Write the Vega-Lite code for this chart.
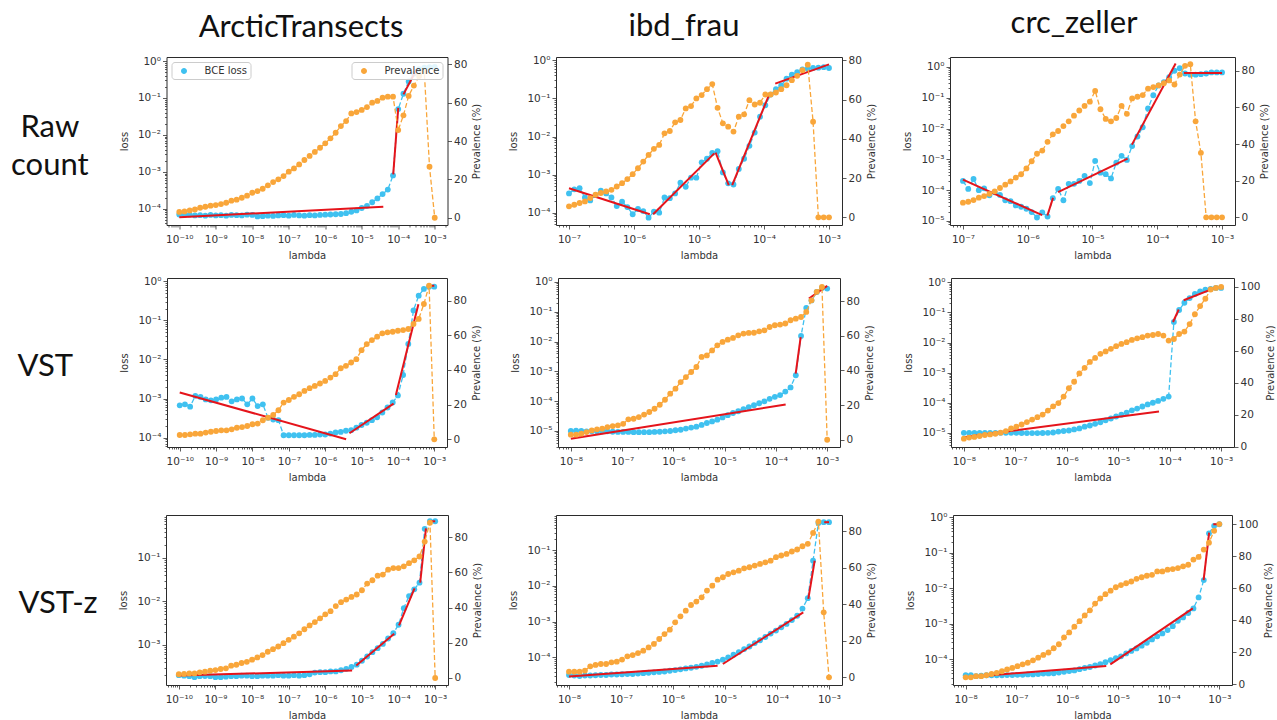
{
  "$schema": "https://vega.github.io/schema/vega-lite/v6.json",
  "padding": {"left": 10, "top": 8, "right": 4, "bottom": 0},
  "background": "white",
  "config": {
    "font": "DejaVu Sans",
    "view": {"stroke": "#2b2b2b", "strokeWidth": 1},
    "axis": {"grid": false, "domain": false, "labelFont": "DejaVu Sans", "labelFontSize": 10.5, "labelColor": "#333333", "titleFont": "DejaVu Sans", "titleFontSize": 10, "titleFontWeight": "normal", "titleColor": "#333333", "tickColor": "#333333"},
    "legend": {"labelFont": "DejaVu Sans", "labelFontSize": 10, "labelColor": "#333333"},
    "title": {"font": "Lato", "fontSize": 31, "fontWeight": "normal", "color": "#111111"}
  },
  "datasets": {
    "arctic_raw": [
      {"lambda": 1e-10, "loss": 7.0e-5, "prev": 3.0}, {"lambda": 1.39e-10, "loss": 6.8e-5, "prev": 3.3}, {"lambda": 1.931e-10, "loss": 6.9e-5, "prev": 3.8}, {"lambda": 2.683e-10, "loss": 6.6e-5, "prev": 4.3}, {"lambda": 3.728e-10, "loss": 6.7e-5, "prev": 5.2}, {"lambda": 5.179e-10, "loss": 6.5e-5, "prev": 5.7}, {"lambda": 7.197e-10, "loss": 6.8e-5, "prev": 6.3},
      {"lambda": 1e-9, "loss": 6.6e-5, "prev": 6.6}, {"lambda": 1.39e-9, "loss": 6.7e-5, "prev": 7.1}, {"lambda": 1.931e-9, "loss": 6.5e-5, "prev": 7.8}, {"lambda": 2.683e-9, "loss": 6.8e-5, "prev": 8.9}, {"lambda": 3.728e-9, "loss": 6.7e-5, "prev": 9.4}, {"lambda": 5.179e-9, "loss": 6.6e-5, "prev": 10.4}, {"lambda": 7.197e-9, "loss": 6.9e-5, "prev": 11.5},
      {"lambda": 1e-8, "loss": 6.8e-5, "prev": 13.0}, {"lambda": 1.39e-8, "loss": 6.2e-5, "prev": 13.9}, {"lambda": 1.931e-8, "loss": 6.3e-5, "prev": 15.1}, {"lambda": 2.683e-8, "loss": 6.5e-5, "prev": 16.9}, {"lambda": 3.728e-8, "loss": 6.4e-5, "prev": 18.6}, {"lambda": 5.179e-8, "loss": 6.6e-5, "prev": 20.0}, {"lambda": 7.197e-8, "loss": 6.7e-5, "prev": 21.7},
      {"lambda": 1e-7, "loss": 6.5e-5, "prev": 24.0}, {"lambda": 1.39e-7, "loss": 6.8e-5, "prev": 25.7}, {"lambda": 1.931e-7, "loss": 6.6e-5, "prev": 27.8}, {"lambda": 2.683e-7, "loss": 6.5e-5, "prev": 30.1}, {"lambda": 3.728e-7, "loss": 6.7e-5, "prev": 32.2}, {"lambda": 5.179e-7, "loss": 6.6e-5, "prev": 34.3}, {"lambda": 7.197e-7, "loss": 6.8e-5, "prev": 36.5},
      {"lambda": 1e-6, "loss": 6.9e-5, "prev": 38.8}, {"lambda": 1.39e-6, "loss": 7.0e-5, "prev": 41.4}, {"lambda": 1.931e-6, "loss": 7.1e-5, "prev": 44.3}, {"lambda": 2.683e-6, "loss": 7.2e-5, "prev": 47.8}, {"lambda": 3.728e-6, "loss": 7.6e-5, "prev": 50.4}, {"lambda": 5.179e-6, "loss": 8.3e-5, "prev": 54.4}, {"lambda": 7.197e-6, "loss": 9.0e-5, "prev": 55.1},
      {"lambda": 1e-5, "loss": 1.05e-4, "prev": 56.2}, {"lambda": 1.39e-5, "loss": 1.2e-4, "prev": 57.7}, {"lambda": 1.931e-5, "loss": 1.5e-4, "prev": 60.0}, {"lambda": 2.683e-5, "loss": 1.9e-4, "prev": 60.9}, {"lambda": 3.728e-5, "loss": 2.5e-4, "prev": 62.6}, {"lambda": 5.179e-5, "loss": 3.3e-4, "prev": 63.1}, {"lambda": 7.197e-5, "loss": 8.0e-4, "prev": 63.1},
      {"lambda": 1e-4, "loss": 0.05, "prev": 45.7}, {"lambda": 1.39e-4, "loss": 0.13, "prev": 53.4}, {"lambda": 1.931e-4, "loss": 0.28, "prev": 63.5}, {"lambda": 2.683e-4, "loss": 0.45, "prev": 68.9}, {"lambda": 3.728e-4, "loss": 0.6, "prev": 73.9}, {"lambda": 5.179e-4, "loss": 0.66, "prev": 76.2}, {"lambda": 7.197e-4, "loss": 0.68, "prev": 26.6},
      {"lambda": 1e-3, "loss": 0.69, "prev": 0}
    ],
    "ibd_raw": [
      {"lambda": 1e-7, "loss": 3.2e-4, "prev": 5.6}, {"lambda": 1.207e-7, "loss": 4.1e-4, "prev": 6.4}, {"lambda": 1.456e-7, "loss": 4.4e-4, "prev": 7.3}, {"lambda": 1.758e-7, "loss": 2.5e-4, "prev": 8.1}, {"lambda": 2.121e-7, "loss": 2.1e-4, "prev": 9.8}, {"lambda": 2.56e-7, "loss": 2.9e-4, "prev": 11.5}, {"lambda": 3.089e-7, "loss": 3.8e-4, "prev": 12.4}, {"lambda": 3.728e-7, "loss": 3.2e-4, "prev": 13.2}, {"lambda": 4.498e-7, "loss": 2.5e-4, "prev": 14.0}, {"lambda": 5.429e-7, "loss": 1.5e-4, "prev": 15.7},
      {"lambda": 6.551e-7, "loss": 1.95e-4, "prev": 17.4}, {"lambda": 7.906e-7, "loss": 1.4e-4, "prev": 19.5}, {"lambda": 9.541e-7, "loss": 9.1e-5, "prev": 22.0}, {"lambda": 1.151e-6, "loss": 1.25e-4, "prev": 25.0}, {"lambda": 1.389e-6, "loss": 1.1e-4, "prev": 28.4}, {"lambda": 1.677e-6, "loss": 7.4e-5, "prev": 31.8}, {"lambda": 2.024e-6, "loss": 1.07e-4, "prev": 34.9}, {"lambda": 2.442e-6, "loss": 1.0e-4, "prev": 36.9}, {"lambda": 2.947e-6, "loss": 2.5e-4, "prev": 42.8}, {"lambda": 3.556e-6, "loss": 2.4e-4, "prev": 44.0},
      {"lambda": 4.292e-6, "loss": 3.2e-4, "prev": 48.4}, {"lambda": 5.179e-6, "loss": 6.1e-4, "prev": 49.6}, {"lambda": 6.251e-6, "loss": 4.8e-4, "prev": 55.5}, {"lambda": 7.543e-6, "loss": 8.3e-4, "prev": 56.7}, {"lambda": 9.103e-6, "loss": 8.3e-4, "prev": 60.6}, {"lambda": 1.099e-5, "loss": 2.1e-3, "prev": 62.3}, {"lambda": 1.326e-5, "loss": 2.6e-3, "prev": 65.3}, {"lambda": 1.6e-5, "loss": 3.7e-3, "prev": 67.9}, {"lambda": 1.931e-5, "loss": 4.1e-3, "prev": 55.8}, {"lambda": 2.33e-5, "loss": 1.14e-3, "prev": 47.9},
      {"lambda": 2.812e-5, "loss": 5.9e-4, "prev": 46.2}, {"lambda": 3.393e-5, "loss": 5.5e-4, "prev": 43.7}, {"lambda": 4.095e-5, "loss": 1.4e-3, "prev": 51.3}, {"lambda": 4.942e-5, "loss": 2.6e-3, "prev": 52.5}, {"lambda": 5.964e-5, "loss": 5.7e-3, "prev": 59.7}, {"lambda": 7.197e-5, "loss": 1.27e-2, "prev": 57.5}, {"lambda": 8.685e-5, "loss": 3.3e-2, "prev": 58.4}, {"lambda": 1.048e-4, "loss": 6.6e-2, "prev": 62.6}, {"lambda": 1.265e-4, "loss": 0.126, "prev": 62.6}, {"lambda": 1.526e-4, "loss": 0.174, "prev": 63.6},
      {"lambda": 1.842e-4, "loss": 0.22, "prev": 65.3}, {"lambda": 2.223e-4, "loss": 0.33, "prev": 67.3}, {"lambda": 2.683e-4, "loss": 0.42, "prev": 69.9}, {"lambda": 3.237e-4, "loss": 0.49, "prev": 72.1}, {"lambda": 3.907e-4, "loss": 0.58, "prev": 75.0}, {"lambda": 4.715e-4, "loss": 0.6, "prev": 77.8}, {"lambda": 5.69e-4, "loss": 0.63, "prev": 48.7}, {"lambda": 6.866e-4, "loss": 0.64, "prev": 0}, {"lambda": 8.286e-4, "loss": 0.66, "prev": 0}, {"lambda": 1e-3, "loss": 0.63, "prev": 0}
    ],
    "crc_raw": [
      {"lambda": 1e-7, "loss": 2.0e-4, "prev": 8.0}, {"lambda": 1.207e-7, "loss": 1.1e-4, "prev": 8.5}, {"lambda": 1.456e-7, "loss": 2.3e-4, "prev": 9.4}, {"lambda": 1.758e-7, "loss": 1.0e-4, "prev": 10.7}, {"lambda": 2.121e-7, "loss": 1.15e-4, "prev": 11.6}, {"lambda": 2.56e-7, "loss": 6.8e-5, "prev": 12.8}, {"lambda": 3.089e-7, "loss": 8.5e-5, "prev": 14.2}, {"lambda": 3.728e-7, "loss": 7.0e-5, "prev": 16.0}, {"lambda": 4.498e-7, "loss": 4.7e-5, "prev": 17.8}, {"lambda": 5.429e-7, "loss": 4.4e-5, "prev": 19.6},
      {"lambda": 6.551e-7, "loss": 3.2e-5, "prev": 21.7}, {"lambda": 7.906e-7, "loss": 2.9e-5, "prev": 23.5}, {"lambda": 9.541e-7, "loss": 2.5e-5, "prev": 26.7}, {"lambda": 1.151e-6, "loss": 1.95e-5, "prev": 30.6}, {"lambda": 1.389e-6, "loss": 1.3e-5, "prev": 34.7}, {"lambda": 1.677e-6, "loss": 1.9e-5, "prev": 36.4}, {"lambda": 2.024e-6, "loss": 1.4e-5, "prev": 41.2}, {"lambda": 2.442e-6, "loss": 5.5e-5, "prev": 45.3}, {"lambda": 2.947e-6, "loss": 1.1e-4, "prev": 47.1}, {"lambda": 3.556e-6, "loss": 4.7e-5, "prev": 49.8},
      {"lambda": 4.292e-6, "loss": 1.6e-4, "prev": 52.4}, {"lambda": 5.179e-6, "loss": 1.6e-4, "prev": 55.5}, {"lambda": 6.251e-6, "loss": 2.0e-4, "prev": 58.3}, {"lambda": 7.543e-6, "loss": 2.9e-4, "prev": 60.8}, {"lambda": 9.103e-6, "loss": 1.7e-4, "prev": 63.1}, {"lambda": 1.099e-5, "loss": 8.9e-4, "prev": 69.0}, {"lambda": 1.326e-5, "loss": 3.7e-4, "prev": 59.0}, {"lambda": 1.6e-5, "loss": 3.3e-4, "prev": 53.7}, {"lambda": 1.931e-5, "loss": 2.4e-4, "prev": 52.4}, {"lambda": 2.33e-5, "loss": 7.8e-4, "prev": 54.2},
      {"lambda": 2.812e-5, "loss": 1.3e-3, "prev": 60.8}, {"lambda": 3.393e-5, "loss": 9.6e-4, "prev": 56.5}, {"lambda": 4.095e-5, "loss": 2.7e-3, "prev": 64.9}, {"lambda": 4.942e-5, "loss": 5.5e-3, "prev": 65.8}, {"lambda": 5.964e-5, "loss": 1.1e-2, "prev": 66.7}, {"lambda": 7.197e-5, "loss": 4.5e-2, "prev": 70.2}, {"lambda": 8.685e-5, "loss": 0.12, "prev": 71.1}, {"lambda": 1.048e-4, "loss": 0.25, "prev": 72.0}, {"lambda": 1.265e-4, "loss": 0.32, "prev": 73.2}, {"lambda": 1.526e-4, "loss": 0.46, "prev": 74.7},
      {"lambda": 1.842e-4, "loss": 0.75, "prev": 72.5}, {"lambda": 2.223e-4, "loss": 0.9, "prev": 77.9}, {"lambda": 2.683e-4, "loss": 0.61, "prev": 82.7}, {"lambda": 3.237e-4, "loss": 0.56, "prev": 83.6}, {"lambda": 3.907e-4, "loss": 0.56, "prev": 52.4}, {"lambda": 4.715e-4, "loss": 0.58, "prev": 35.2}, {"lambda": 5.69e-4, "loss": 0.61, "prev": 0}, {"lambda": 6.866e-4, "loss": 0.66, "prev": 0}, {"lambda": 8.286e-4, "loss": 0.66, "prev": 0}, {"lambda": 1e-3, "loss": 0.66, "prev": 0}
    ],
    "arctic_vst": [
      {"lambda": 1e-10, "loss": 6.7e-4, "prev": 2.5}, {"lambda": 1.39e-10, "loss": 7.1e-4, "prev": 2.5}, {"lambda": 1.931e-10, "loss": 6.2e-4, "prev": 2.9}, {"lambda": 2.683e-10, "loss": 1.17e-3, "prev": 3.3}, {"lambda": 3.728e-10, "loss": 1.1e-3, "prev": 3.3}, {"lambda": 5.179e-10, "loss": 9.5e-4, "prev": 3.9}, {"lambda": 7.197e-10, "loss": 9.0e-4, "prev": 4.4},
      {"lambda": 1e-9, "loss": 9.5e-4, "prev": 4.8}, {"lambda": 1.39e-9, "loss": 1.05e-3, "prev": 5.2}, {"lambda": 1.931e-9, "loss": 1.1e-3, "prev": 5.2}, {"lambda": 2.683e-9, "loss": 8.5e-4, "prev": 5.8}, {"lambda": 3.728e-9, "loss": 9.5e-4, "prev": 6.7}, {"lambda": 5.179e-9, "loss": 1.0e-3, "prev": 7.1}, {"lambda": 7.197e-9, "loss": 7.1e-4, "prev": 7.7},
      {"lambda": 1e-8, "loss": 1.0e-3, "prev": 8.7}, {"lambda": 1.39e-8, "loss": 6.4e-4, "prev": 9.1}, {"lambda": 1.931e-8, "loss": 7.1e-4, "prev": 11.0}, {"lambda": 2.683e-8, "loss": 3.2e-4, "prev": 12.5}, {"lambda": 3.728e-8, "loss": 2.9e-4, "prev": 14.1}, {"lambda": 5.179e-8, "loss": 2.8e-4, "prev": 16.8}, {"lambda": 7.197e-8, "loss": 1.15e-4, "prev": 21.2},
      {"lambda": 1e-7, "loss": 1.15e-4, "prev": 22.7}, {"lambda": 1.39e-7, "loss": 1.15e-4, "prev": 24.5}, {"lambda": 1.931e-7, "loss": 1.15e-4, "prev": 26.0}, {"lambda": 2.683e-7, "loss": 1.15e-4, "prev": 27.9}, {"lambda": 3.728e-7, "loss": 1.17e-4, "prev": 29.5}, {"lambda": 5.179e-7, "loss": 1.17e-4, "prev": 30.8}, {"lambda": 7.197e-7, "loss": 1.2e-4, "prev": 32.2},
      {"lambda": 1e-6, "loss": 1.2e-4, "prev": 33.7}, {"lambda": 1.39e-6, "loss": 1.27e-4, "prev": 35.6}, {"lambda": 1.931e-6, "loss": 1.35e-4, "prev": 37.6}, {"lambda": 2.683e-6, "loss": 1.4e-4, "prev": 41.0}, {"lambda": 3.728e-6, "loss": 1.5e-4, "prev": 42.4}, {"lambda": 5.179e-6, "loss": 1.55e-4, "prev": 44.3}, {"lambda": 7.197e-6, "loss": 1.8e-4, "prev": 46.2},
      {"lambda": 1e-5, "loss": 2.1e-4, "prev": 51.4}, {"lambda": 1.39e-5, "loss": 2.4e-4, "prev": 54.9}, {"lambda": 1.931e-5, "loss": 2.8e-4, "prev": 57.2}, {"lambda": 2.683e-5, "loss": 3.3e-4, "prev": 59.2}, {"lambda": 3.728e-5, "loss": 4.4e-4, "prev": 61.1}, {"lambda": 5.179e-5, "loss": 5.9e-4, "prev": 61.7}, {"lambda": 7.197e-5, "loss": 7.9e-4, "prev": 62.0},
      {"lambda": 1e-4, "loss": 1.2e-3, "prev": 62.6}, {"lambda": 1.39e-4, "loss": 4.0e-3, "prev": 63.0}, {"lambda": 1.931e-4, "loss": 2.5e-2, "prev": 63.6}, {"lambda": 2.683e-4, "loss": 0.18, "prev": 66.5}, {"lambda": 3.728e-4, "loss": 0.43, "prev": 69.4}, {"lambda": 5.179e-4, "loss": 0.64, "prev": 78.0}, {"lambda": 7.197e-4, "loss": 0.73, "prev": 88.6},
      {"lambda": 1e-3, "loss": 0.73, "prev": 0}
    ],
    "ibd_vst": [
      {"lambda": 1e-8, "loss": 1.0e-5, "prev": 2.9}, {"lambda": 1.265e-8, "loss": 1.02e-5, "prev": 2.9}, {"lambda": 1.6e-8, "loss": 1.0e-5, "prev": 3.5}, {"lambda": 2.024e-8, "loss": 9.7e-6, "prev": 4.4}, {"lambda": 2.56e-8, "loss": 9.8e-6, "prev": 5.4}, {"lambda": 3.237e-8, "loss": 9.7e-6, "prev": 6.0}, {"lambda": 4.095e-8, "loss": 9.7e-6, "prev": 6.4}, {"lambda": 5.179e-8, "loss": 9.7e-6, "prev": 7.3}, {"lambda": 6.551e-8, "loss": 9.4e-6, "prev": 7.9}, {"lambda": 8.286e-8, "loss": 9.3e-6, "prev": 8.3},
      {"lambda": 1.048e-7, "loss": 9.3e-6, "prev": 9.2}, {"lambda": 1.326e-7, "loss": 9.3e-6, "prev": 11.8}, {"lambda": 1.677e-7, "loss": 9.1e-6, "prev": 12.1}, {"lambda": 2.121e-7, "loss": 9.1e-6, "prev": 13.1}, {"lambda": 2.683e-7, "loss": 9.1e-6, "prev": 14.5}, {"lambda": 3.393e-7, "loss": 9.1e-6, "prev": 16.0}, {"lambda": 4.292e-7, "loss": 9.3e-6, "prev": 17.9}, {"lambda": 5.429e-7, "loss": 9.4e-6, "prev": 20.2}, {"lambda": 6.866e-7, "loss": 9.7e-6, "prev": 23.1}, {"lambda": 8.685e-7, "loss": 1.0e-5, "prev": 26.6},
      {"lambda": 1.099e-6, "loss": 1.06e-5, "prev": 29.5}, {"lambda": 1.389e-6, "loss": 1.1e-5, "prev": 33.3}, {"lambda": 1.758e-6, "loss": 1.2e-5, "prev": 36.2}, {"lambda": 2.223e-6, "loss": 1.3e-5, "prev": 39.1}, {"lambda": 2.812e-6, "loss": 1.4e-5, "prev": 42.0}, {"lambda": 3.556e-6, "loss": 1.6e-5, "prev": 47.8}, {"lambda": 4.498e-6, "loss": 1.85e-5, "prev": 48.7}, {"lambda": 5.69e-6, "loss": 2.1e-5, "prev": 51.6}, {"lambda": 7.197e-6, "loss": 2.4e-5, "prev": 54.5}, {"lambda": 9.103e-6, "loss": 2.85e-5, "prev": 56.5},
      {"lambda": 1.151e-5, "loss": 3.4e-5, "prev": 57.8}, {"lambda": 1.456e-5, "loss": 4.0e-5, "prev": 58.8}, {"lambda": 1.842e-5, "loss": 4.6e-5, "prev": 60.3}, {"lambda": 2.33e-5, "loss": 5.4e-5, "prev": 61.3}, {"lambda": 2.947e-5, "loss": 6.3e-5, "prev": 61.7}, {"lambda": 3.728e-5, "loss": 7.3e-5, "prev": 61.8}, {"lambda": 4.715e-5, "loss": 8.5e-5, "prev": 62.6}, {"lambda": 5.964e-5, "loss": 9.9e-5, "prev": 63.2}, {"lambda": 7.543e-5, "loss": 1.2e-4, "prev": 65.1}, {"lambda": 9.541e-5, "loss": 1.4e-4, "prev": 66.1},
      {"lambda": 1.207e-4, "loss": 1.6e-4, "prev": 66.5}, {"lambda": 1.526e-4, "loss": 2.1e-4, "prev": 67.1}, {"lambda": 1.931e-4, "loss": 2.9e-4, "prev": 69.0}, {"lambda": 2.442e-4, "loss": 7.4e-4, "prev": 69.9}, {"lambda": 3.089e-4, "loss": 1.55e-2, "prev": 70.9}, {"lambda": 3.907e-4, "loss": 0.134, "prev": 73.8}, {"lambda": 4.942e-4, "loss": 0.24, "prev": 80.5}, {"lambda": 6.251e-4, "loss": 0.46, "prev": 85.4}, {"lambda": 7.906e-4, "loss": 0.63, "prev": 88.2}, {"lambda": 1e-3, "loss": 0.6, "prev": 0}
    ],
    "crc_vst": [
      {"lambda": 1e-8, "loss": 1.0e-5, "prev": 4.9}, {"lambda": 1.265e-8, "loss": 1.0e-5, "prev": 5.6}, {"lambda": 1.6e-8, "loss": 1.0e-5, "prev": 6.0}, {"lambda": 2.024e-8, "loss": 1.0e-5, "prev": 6.6}, {"lambda": 2.56e-8, "loss": 1.0e-5, "prev": 7.2}, {"lambda": 3.237e-8, "loss": 1.0e-5, "prev": 7.6}, {"lambda": 4.095e-8, "loss": 1.0e-5, "prev": 8.0}, {"lambda": 5.179e-8, "loss": 1.0e-5, "prev": 8.7}, {"lambda": 6.551e-8, "loss": 1.0e-5, "prev": 9.7}, {"lambda": 8.286e-8, "loss": 1.0e-5, "prev": 11.3},
      {"lambda": 1.048e-7, "loss": 1.0e-5, "prev": 12.4}, {"lambda": 1.326e-7, "loss": 9.9e-6, "prev": 13.8}, {"lambda": 1.677e-7, "loss": 9.8e-6, "prev": 15.3}, {"lambda": 2.121e-7, "loss": 9.8e-6, "prev": 16.9}, {"lambda": 2.683e-7, "loss": 9.8e-6, "prev": 18.4}, {"lambda": 3.393e-7, "loss": 9.9e-6, "prev": 20.0}, {"lambda": 4.292e-7, "loss": 1.0e-5, "prev": 22.5}, {"lambda": 5.429e-7, "loss": 1.03e-5, "prev": 25.2}, {"lambda": 6.866e-7, "loss": 1.1e-5, "prev": 27.2}, {"lambda": 8.685e-7, "loss": 1.15e-5, "prev": 31.3},
      {"lambda": 1.099e-6, "loss": 1.2e-5, "prev": 36.5}, {"lambda": 1.389e-6, "loss": 1.3e-5, "prev": 40.6}, {"lambda": 1.758e-6, "loss": 1.4e-5, "prev": 45.8}, {"lambda": 2.223e-6, "loss": 1.6e-5, "prev": 49.3}, {"lambda": 2.812e-6, "loss": 1.75e-5, "prev": 53.0}, {"lambda": 3.556e-6, "loss": 2.0e-5, "prev": 55.5}, {"lambda": 4.498e-6, "loss": 2.25e-5, "prev": 58.1}, {"lambda": 5.69e-6, "loss": 2.6e-5, "prev": 59.6}, {"lambda": 7.197e-6, "loss": 3.0e-5, "prev": 61.2}, {"lambda": 9.103e-6, "loss": 3.5e-5, "prev": 62.9},
      {"lambda": 1.151e-5, "loss": 4.0e-5, "prev": 64.3}, {"lambda": 1.456e-5, "loss": 4.7e-5, "prev": 65.4}, {"lambda": 1.842e-5, "loss": 5.6e-5, "prev": 66.8}, {"lambda": 2.33e-5, "loss": 6.4e-5, "prev": 67.8}, {"lambda": 2.947e-5, "loss": 7.5e-5, "prev": 68.5}, {"lambda": 3.728e-5, "loss": 8.8e-5, "prev": 69.5}, {"lambda": 4.715e-5, "loss": 1.0e-4, "prev": 69.9}, {"lambda": 5.964e-5, "loss": 1.15e-4, "prev": 70.5}, {"lambda": 7.543e-5, "loss": 1.35e-4, "prev": 69.5}, {"lambda": 9.541e-5, "loss": 1.6e-4, "prev": 66.4},
      {"lambda": 1.207e-4, "loss": 4.8e-2, "prev": 67.4}, {"lambda": 1.526e-4, "loss": 0.12, "prev": 70.5}, {"lambda": 1.931e-4, "loss": 0.21, "prev": 72.0}, {"lambda": 2.442e-4, "loss": 0.3, "prev": 76.7}, {"lambda": 3.089e-4, "loss": 0.41, "prev": 82.9}, {"lambda": 3.907e-4, "loss": 0.5, "prev": 88.0}, {"lambda": 4.942e-4, "loss": 0.57, "prev": 92.6}, {"lambda": 6.251e-4, "loss": 0.6, "prev": 98.4}, {"lambda": 7.906e-4, "loss": 0.65, "prev": 99.4}, {"lambda": 1e-3, "loss": 0.65, "prev": 100}
    ],
    "arctic_vstz": [
      {"lambda": 1e-10, "loss": 2.0e-4, "prev": 2.1}, {"lambda": 1.39e-10, "loss": 1.95e-4, "prev": 2.3}, {"lambda": 1.931e-10, "loss": 1.9e-4, "prev": 2.6}, {"lambda": 2.683e-10, "loss": 1.8e-4, "prev": 2.6}, {"lambda": 3.728e-10, "loss": 1.9e-4, "prev": 3.2}, {"lambda": 5.179e-10, "loss": 1.92e-4, "prev": 3.6}, {"lambda": 7.197e-10, "loss": 1.9e-4, "prev": 4.1},
      {"lambda": 1e-9, "loss": 1.8e-4, "prev": 4.5}, {"lambda": 1.39e-9, "loss": 1.8e-4, "prev": 5.1}, {"lambda": 1.931e-9, "loss": 1.85e-4, "prev": 5.5}, {"lambda": 2.683e-9, "loss": 1.9e-4, "prev": 7.0}, {"lambda": 3.728e-9, "loss": 1.9e-4, "prev": 7.5}, {"lambda": 5.179e-9, "loss": 1.95e-4, "prev": 8.5}, {"lambda": 7.197e-9, "loss": 1.95e-4, "prev": 9.2},
      {"lambda": 1e-8, "loss": 1.9e-4, "prev": 10.4}, {"lambda": 1.39e-8, "loss": 1.9e-4, "prev": 11.7}, {"lambda": 1.931e-8, "loss": 1.95e-4, "prev": 13.0}, {"lambda": 2.683e-8, "loss": 1.95e-4, "prev": 14.9}, {"lambda": 3.728e-8, "loss": 1.95e-4, "prev": 16.4}, {"lambda": 5.179e-8, "loss": 2.0e-4, "prev": 17.9}, {"lambda": 7.197e-8, "loss": 1.95e-4, "prev": 19.8},
      {"lambda": 1e-7, "loss": 1.95e-4, "prev": 21.7}, {"lambda": 1.39e-7, "loss": 2.0e-4, "prev": 23.5}, {"lambda": 1.931e-7, "loss": 1.95e-4, "prev": 25.4}, {"lambda": 2.683e-7, "loss": 2.0e-4, "prev": 27.7}, {"lambda": 3.728e-7, "loss": 2.1e-4, "prev": 29.9}, {"lambda": 5.179e-7, "loss": 2.3e-4, "prev": 31.8}, {"lambda": 7.197e-7, "loss": 2.35e-4, "prev": 33.9},
      {"lambda": 1e-6, "loss": 2.35e-4, "prev": 36.2}, {"lambda": 1.39e-6, "loss": 2.45e-4, "prev": 38.0}, {"lambda": 1.931e-6, "loss": 2.45e-4, "prev": 40.9}, {"lambda": 2.683e-6, "loss": 2.6e-4, "prev": 43.1}, {"lambda": 3.728e-6, "loss": 2.8e-4, "prev": 44.6}, {"lambda": 5.179e-6, "loss": 3.1e-4, "prev": 46.1}, {"lambda": 7.197e-6, "loss": 3.5e-4, "prev": 47.5},
      {"lambda": 1e-5, "loss": 4.3e-4, "prev": 49.9}, {"lambda": 1.39e-5, "loss": 5.4e-4, "prev": 53.7}, {"lambda": 1.931e-5, "loss": 6.8e-4, "prev": 55.6}, {"lambda": 2.683e-5, "loss": 8.4e-4, "prev": 58.2}, {"lambda": 3.728e-5, "loss": 1.05e-3, "prev": 58.8}, {"lambda": 5.179e-5, "loss": 1.4e-3, "prev": 61.6}, {"lambda": 7.197e-5, "loss": 1.85e-3, "prev": 62.5},
      {"lambda": 1e-4, "loss": 2.9e-3, "prev": 62.5}, {"lambda": 1.39e-4, "loss": 7.0e-3, "prev": 63.5}, {"lambda": 1.931e-4, "loss": 1.33e-2, "prev": 65.3}, {"lambda": 2.683e-4, "loss": 1.9e-2, "prev": 66.9}, {"lambda": 3.728e-4, "loss": 2.7e-2, "prev": 69.1}, {"lambda": 5.179e-4, "loss": 0.47, "prev": 77.6}, {"lambda": 7.197e-4, "loss": 0.7, "prev": 88.3},
      {"lambda": 1e-3, "loss": 0.7, "prev": 0}
    ],
    "ibd_vstz": [
      {"lambda": 1e-8, "loss": 3.2e-5, "prev": 3.1}, {"lambda": 1.265e-8, "loss": 3.1e-5, "prev": 3.1}, {"lambda": 1.6e-8, "loss": 3.0e-5, "prev": 3.1}, {"lambda": 2.024e-8, "loss": 3.1e-5, "prev": 3.7}, {"lambda": 2.56e-8, "loss": 3.1e-5, "prev": 6.0}, {"lambda": 3.237e-8, "loss": 3.15e-5, "prev": 6.8}, {"lambda": 4.095e-8, "loss": 3.2e-5, "prev": 7.3}, {"lambda": 5.179e-8, "loss": 3.2e-5, "prev": 7.3}, {"lambda": 6.551e-8, "loss": 3.3e-5, "prev": 8.2}, {"lambda": 8.286e-8, "loss": 3.3e-5, "prev": 8.6},
      {"lambda": 1.048e-7, "loss": 3.35e-5, "prev": 9.7}, {"lambda": 1.326e-7, "loss": 3.4e-5, "prev": 11.5}, {"lambda": 1.677e-7, "loss": 3.4e-5, "prev": 12.2}, {"lambda": 2.121e-7, "loss": 3.5e-5, "prev": 13.3}, {"lambda": 2.683e-7, "loss": 3.6e-5, "prev": 14.6}, {"lambda": 3.393e-7, "loss": 3.7e-5, "prev": 16.4}, {"lambda": 4.292e-7, "loss": 3.8e-5, "prev": 18.3}, {"lambda": 5.429e-7, "loss": 3.9e-5, "prev": 21.0}, {"lambda": 6.866e-7, "loss": 4.0e-5, "prev": 23.7}, {"lambda": 8.685e-7, "loss": 4.2e-5, "prev": 26.1},
      {"lambda": 1.099e-6, "loss": 4.4e-5, "prev": 30.1}, {"lambda": 1.389e-6, "loss": 4.6e-5, "prev": 33.4}, {"lambda": 1.758e-6, "loss": 4.9e-5, "prev": 36.5}, {"lambda": 2.223e-6, "loss": 5.1e-5, "prev": 39.6}, {"lambda": 2.812e-6, "loss": 5.4e-5, "prev": 41.5}, {"lambda": 3.556e-6, "loss": 5.8e-5, "prev": 43.8}, {"lambda": 4.498e-6, "loss": 6.3e-5, "prev": 47.5}, {"lambda": 5.69e-6, "loss": 7.0e-5, "prev": 50.2}, {"lambda": 7.197e-6, "loss": 7.6e-5, "prev": 53.5}, {"lambda": 9.103e-6, "loss": 8.6e-5, "prev": 54.8},
      {"lambda": 1.151e-5, "loss": 9.9e-5, "prev": 56.6}, {"lambda": 1.456e-5, "loss": 1.18e-4, "prev": 57.5}, {"lambda": 1.842e-5, "loss": 1.4e-4, "prev": 58.4}, {"lambda": 2.33e-5, "loss": 1.7e-4, "prev": 59.7}, {"lambda": 2.947e-5, "loss": 2.0e-4, "prev": 60.3}, {"lambda": 3.728e-5, "loss": 2.5e-4, "prev": 61.2}, {"lambda": 4.715e-5, "loss": 3.0e-4, "prev": 62.1}, {"lambda": 5.964e-5, "loss": 3.7e-4, "prev": 63.0}, {"lambda": 7.543e-5, "loss": 4.6e-4, "prev": 63.9}, {"lambda": 9.541e-5, "loss": 5.6e-4, "prev": 65.8},
      {"lambda": 1.207e-4, "loss": 6.9e-4, "prev": 66.7}, {"lambda": 1.526e-4, "loss": 8.6e-4, "prev": 67.6}, {"lambda": 1.931e-4, "loss": 1.1e-3, "prev": 68.9}, {"lambda": 2.442e-4, "loss": 1.45e-3, "prev": 70.0}, {"lambda": 3.089e-4, "loss": 2.3e-3, "prev": 71.8}, {"lambda": 3.907e-4, "loss": 4.5e-3, "prev": 73.1}, {"lambda": 4.942e-4, "loss": 5.0e-2, "prev": 79.1}, {"lambda": 6.251e-4, "loss": 0.57, "prev": 85.3}, {"lambda": 7.906e-4, "loss": 0.6, "prev": 35.6}, {"lambda": 1e-3, "loss": 0.6, "prev": 0}
    ],
    "crc_vstz": [
      {"lambda": 1e-8, "loss": 3.5e-5, "prev": 4.2}, {"lambda": 1.265e-8, "loss": 3.5e-5, "prev": 4.2}, {"lambda": 1.6e-8, "loss": 3.3e-5, "prev": 4.9}, {"lambda": 2.024e-8, "loss": 3.4e-5, "prev": 4.9}, {"lambda": 2.56e-8, "loss": 3.5e-5, "prev": 5.5}, {"lambda": 3.237e-8, "loss": 3.5e-5, "prev": 6.3}, {"lambda": 4.095e-8, "loss": 3.5e-5, "prev": 7.0}, {"lambda": 5.179e-8, "loss": 3.5e-5, "prev": 8.0}, {"lambda": 6.551e-8, "loss": 3.55e-5, "prev": 9.1}, {"lambda": 8.286e-8, "loss": 3.55e-5, "prev": 10.1},
      {"lambda": 1.048e-7, "loss": 3.6e-5, "prev": 11.2}, {"lambda": 1.326e-7, "loss": 3.6e-5, "prev": 12.3}, {"lambda": 1.677e-7, "loss": 3.7e-5, "prev": 13.3}, {"lambda": 2.121e-7, "loss": 3.7e-5, "prev": 14.8}, {"lambda": 2.683e-7, "loss": 3.8e-5, "prev": 16.5}, {"lambda": 3.393e-7, "loss": 3.9e-5, "prev": 18.2}, {"lambda": 4.292e-7, "loss": 3.95e-5, "prev": 19.7}, {"lambda": 5.429e-7, "loss": 4.0e-5, "prev": 22.4}, {"lambda": 6.866e-7, "loss": 4.2e-5, "prev": 24.9}, {"lambda": 8.685e-7, "loss": 4.4e-5, "prev": 29.2},
      {"lambda": 1.099e-6, "loss": 4.6e-5, "prev": 32.3}, {"lambda": 1.389e-6, "loss": 4.8e-5, "prev": 35.9}, {"lambda": 1.758e-6, "loss": 5.2e-5, "prev": 39.3}, {"lambda": 2.223e-6, "loss": 5.6e-5, "prev": 42.9}, {"lambda": 2.812e-6, "loss": 6.0e-5, "prev": 46.1}, {"lambda": 3.556e-6, "loss": 6.6e-5, "prev": 50.3}, {"lambda": 4.498e-6, "loss": 7.2e-5, "prev": 53.5}, {"lambda": 5.69e-6, "loss": 8.2e-5, "prev": 56.2}, {"lambda": 7.197e-6, "loss": 9.4e-5, "prev": 58.4}, {"lambda": 9.103e-6, "loss": 1.07e-4, "prev": 60.5},
      {"lambda": 1.151e-5, "loss": 1.2e-4, "prev": 61.9}, {"lambda": 1.456e-5, "loss": 1.45e-4, "prev": 63.0}, {"lambda": 1.842e-5, "loss": 1.7e-4, "prev": 64.1}, {"lambda": 2.33e-5, "loss": 2.0e-4, "prev": 65.8}, {"lambda": 2.947e-5, "loss": 2.4e-4, "prev": 66.8}, {"lambda": 3.728e-5, "loss": 2.9e-4, "prev": 67.7}, {"lambda": 4.715e-5, "loss": 3.6e-4, "prev": 68.3}, {"lambda": 5.964e-5, "loss": 4.4e-4, "prev": 70.4}, {"lambda": 7.543e-5, "loss": 5.3e-4, "prev": 70.4}, {"lambda": 9.541e-5, "loss": 6.6e-4, "prev": 71.5},
      {"lambda": 1.207e-4, "loss": 8.5e-4, "prev": 71.9}, {"lambda": 1.526e-4, "loss": 1.2e-3, "prev": 72.5}, {"lambda": 1.931e-4, "loss": 1.5e-3, "prev": 73.6}, {"lambda": 2.442e-4, "loss": 2.0e-3, "prev": 74.6}, {"lambda": 3.089e-4, "loss": 2.7e-3, "prev": 77.8}, {"lambda": 3.907e-4, "loss": 5.5e-3, "prev": 79.5}, {"lambda": 4.942e-4, "loss": 1.7e-2, "prev": 84.1}, {"lambda": 6.251e-4, "loss": 0.354, "prev": 88.4}, {"lambda": 7.906e-4, "loss": 0.576, "prev": 95.8}, {"lambda": 1e-3, "loss": 0.64, "prev": 100}
    ],
    "fits": [
      {"panel": "arctic_raw", "segment": 1, "lambda": 1e-10, "loss": 5.9e-5}, {"panel": "arctic_raw", "segment": 1, "lambda": 3.9e-5, "loss": 1.13e-4},
      {"panel": "arctic_raw", "segment": 2, "lambda": 7.3e-5, "loss": 8.5e-4}, {"panel": "arctic_raw", "segment": 2, "lambda": 1e-4, "loss": 0.054},
      {"panel": "arctic_raw", "segment": 3, "lambda": 1.39e-4, "loss": 0.125}, {"panel": "arctic_raw", "segment": 3, "lambda": 3.2e-4, "loss": 0.6},
      {"panel": "ibd_raw", "segment": 1, "lambda": 1e-7, "loss": 4.4e-4}, {"panel": "ibd_raw", "segment": 1, "lambda": 1.75e-6, "loss": 9.1e-5},
      {"panel": "ibd_raw", "segment": 2, "lambda": 1.97e-6, "loss": 9.1e-5}, {"panel": "ibd_raw", "segment": 2, "lambda": 1.72e-5, "loss": 3.6e-3},
      {"panel": "ibd_raw", "segment": 3, "lambda": 1.8e-5, "loss": 3.8e-3}, {"panel": "ibd_raw", "segment": 3, "lambda": 2.87e-5, "loss": 5.3e-4},
      {"panel": "ibd_raw", "segment": 4, "lambda": 3.24e-5, "loss": 5.3e-4}, {"panel": "ibd_raw", "segment": 4, "lambda": 1.2e-4, "loss": 0.126},
      {"panel": "ibd_raw", "segment": 5, "lambda": 1.49e-4, "loss": 0.245}, {"panel": "ibd_raw", "segment": 5, "lambda": 1e-3, "loss": 0.785},
      {"panel": "crc_raw", "segment": 1, "lambda": 1e-7, "loss": 2.2e-4}, {"panel": "crc_raw", "segment": 1, "lambda": 1.67e-6, "loss": 1.55e-5},
      {"panel": "crc_raw", "segment": 2, "lambda": 2.01e-6, "loss": 1.5e-5}, {"panel": "crc_raw", "segment": 2, "lambda": 2.46e-6, "loss": 5.6e-5},
      {"panel": "crc_raw", "segment": 3, "lambda": 2.94e-6, "loss": 8.7e-5}, {"panel": "crc_raw", "segment": 3, "lambda": 3.48e-5, "loss": 1.05e-3},
      {"panel": "crc_raw", "segment": 4, "lambda": 4.06e-5, "loss": 3.0e-3}, {"panel": "crc_raw", "segment": 4, "lambda": 1.92e-4, "loss": 1.28},
      {"panel": "crc_raw", "segment": 5, "lambda": 2.58e-4, "loss": 0.63}, {"panel": "crc_raw", "segment": 5, "lambda": 1e-3, "loss": 0.63},
      {"panel": "arctic_vst", "segment": 1, "lambda": 1e-10, "loss": 1.43e-3}, {"panel": "arctic_vst", "segment": 1, "lambda": 3.77e-6, "loss": 9.1e-5},
      {"panel": "arctic_vst", "segment": 2, "lambda": 4.65e-6, "loss": 1.29e-4}, {"panel": "arctic_vst", "segment": 2, "lambda": 7.6e-5, "loss": 7.4e-4},
      {"panel": "arctic_vst", "segment": 3, "lambda": 8.8e-5, "loss": 1.24e-3}, {"panel": "arctic_vst", "segment": 3, "lambda": 3.66e-4, "loss": 0.26},
      {"panel": "arctic_vst", "segment": 4, "lambda": 6.9e-4, "loss": 0.77}, {"panel": "arctic_vst", "segment": 4, "lambda": 1e-3, "loss": 0.77},
      {"panel": "ibd_vst", "segment": 1, "lambda": 1e-8, "loss": 5.5e-6}, {"panel": "ibd_vst", "segment": 1, "lambda": 1.55e-4, "loss": 7.7e-5},
      {"panel": "ibd_vst", "segment": 2, "lambda": 2.43e-4, "loss": 8.4e-4}, {"panel": "ibd_vst", "segment": 2, "lambda": 3.04e-4, "loss": 1.4e-2},
      {"panel": "ibd_vst", "segment": 3, "lambda": 4.4e-4, "loss": 0.28}, {"panel": "ibd_vst", "segment": 3, "lambda": 1e-3, "loss": 0.74},
      {"panel": "crc_vst", "segment": 1, "lambda": 1e-8, "loss": 7.2e-6}, {"panel": "crc_vst", "segment": 1, "lambda": 6.2e-5, "loss": 5.1e-5},
      {"panel": "crc_vst", "segment": 2, "lambda": 1.16e-4, "loss": 0.048}, {"panel": "crc_vst", "segment": 2, "lambda": 1.5e-4, "loss": 0.125},
      {"panel": "crc_vst", "segment": 3, "lambda": 1.87e-4, "loss": 0.254}, {"panel": "crc_vst", "segment": 3, "lambda": 7.65e-4, "loss": 0.65},
      {"panel": "arctic_vstz", "segment": 1, "lambda": 1e-10, "loss": 1.96e-4}, {"panel": "arctic_vstz", "segment": 1, "lambda": 5.4e-6, "loss": 2.56e-4},
      {"panel": "arctic_vstz", "segment": 2, "lambda": 7.0e-6, "loss": 3.33e-4}, {"panel": "arctic_vstz", "segment": 2, "lambda": 7.6e-5, "loss": 1.8e-3},
      {"panel": "arctic_vstz", "segment": 3, "lambda": 1.03e-4, "loss": 2.8e-3}, {"panel": "arctic_vstz", "segment": 3, "lambda": 2.73e-4, "loss": 2.0e-2},
      {"panel": "arctic_vstz", "segment": 4, "lambda": 3.9e-4, "loss": 2.7e-2}, {"panel": "arctic_vstz", "segment": 4, "lambda": 5.6e-4, "loss": 0.48},
      {"panel": "arctic_vstz", "segment": 5, "lambda": 7.6e-4, "loss": 0.7}, {"panel": "arctic_vstz", "segment": 5, "lambda": 1e-3, "loss": 0.7},
      {"panel": "ibd_vstz", "segment": 1, "lambda": 1e-8, "loss": 2.9e-5}, {"panel": "ibd_vstz", "segment": 1, "lambda": 7.2e-6, "loss": 5.8e-5},
      {"panel": "ibd_vstz", "segment": 2, "lambda": 9.1e-6, "loss": 6.5e-5}, {"panel": "ibd_vstz", "segment": 2, "lambda": 3.2e-4, "loss": 1.8e-3},
      {"panel": "ibd_vstz", "segment": 3, "lambda": 4.0e-4, "loss": 4.3e-3}, {"panel": "ibd_vstz", "segment": 3, "lambda": 5.3e-4, "loss": 0.05},
      {"panel": "ibd_vstz", "segment": 4, "lambda": 8.1e-4, "loss": 0.6}, {"panel": "ibd_vstz", "segment": 4, "lambda": 1e-3, "loss": 0.6},
      {"panel": "crc_vstz", "segment": 1, "lambda": 1e-8, "loss": 3.1e-5}, {"panel": "crc_vstz", "segment": 1, "lambda": 5.9e-6, "loss": 6.4e-5},
      {"panel": "crc_vstz", "segment": 2, "lambda": 7.1e-6, "loss": 7.1e-5}, {"panel": "crc_vstz", "segment": 2, "lambda": 3.0e-4, "loss": 2.7e-3},
      {"panel": "crc_vstz", "segment": 3, "lambda": 4.9e-4, "loss": 1.7e-2}, {"panel": "crc_vstz", "segment": 3, "lambda": 6.3e-4, "loss": 0.37},
      {"panel": "crc_vstz", "segment": 4, "lambda": 7.6e-4, "loss": 0.64}, {"panel": "crc_vstz", "segment": 4, "lambda": 1e-3, "loss": 0.64}
    ]
  },
  "hconcat": [
    {
      "title": {"text": "ArcticTransects", "anchor": "middle", "frame": "group", "offset": 12, "dx": 135},
      "vconcat": [
        {
          "width": 281, "height": 168,
          "title": {"text": ["Raw", "count"], "orient": "left", "angle": 0, "align": "center", "baseline": "middle", "anchor": "middle", "frame": "group", "offset": -8, "lineHeight": 38, "dy": -13},
          "encoding": {"x": {"field": "lambda", "type": "quantitative", "title": "lambda", "scale": {"type": "log", "domain": [4.467e-11, 2.239e-3], "nice": false},
            "axis": {"tickCount": 20, "labelExpr": "abs(log(datum.value)/LN10 - round(log(datum.value)/LN10)) < 0.01 ? '10' + (round(log(datum.value)/LN10) < 0 ? '⁻' : '') + (abs(round(log(datum.value)/LN10)) >= 10 ? '¹' : '') + ['⁰','¹','²','³','⁴','⁵','⁶','⁷','⁸','⁹'][abs(round(log(datum.value)/LN10)) % 10] : ''", "tickSize": {"condition": {"test": "abs(log(datum.value)/LN10 - round(log(datum.value)/LN10)) < 0.01", "value": 4}, "value": 2}, "tickWidth": 0.8, "labelOverlap": false, "labelFlush": false, "labelPadding": 5, "titlePadding": 6}}},
          "layer": [
            {"data": {"name": "arctic_raw"}, "mark": {"type": "line", "color": "#3fc1f0", "strokeDash": [5, 2.5], "strokeWidth": 1.3},
             "encoding": {"y": {"field": "loss", "type": "quantitative", "title": "loss", "scale": {"type": "log", "domain": [3.63e-5, 1.288], "nice": false},
               "axis": {"orient": "left", "tickCount": 20, "labelExpr": "abs(log(datum.value)/LN10 - round(log(datum.value)/LN10)) < 0.01 ? '10' + (round(log(datum.value)/LN10) < 0 ? '⁻' : '') + (abs(round(log(datum.value)/LN10)) >= 10 ? '¹' : '') + ['⁰','¹','²','³','⁴','⁵','⁶','⁷','⁸','⁹'][abs(round(log(datum.value)/LN10)) % 10] : ''", "tickSize": {"condition": {"test": "abs(log(datum.value)/LN10 - round(log(datum.value)/LN10)) < 0.01", "value": 4}, "value": 2}, "tickWidth": 0.8, "labelOverlap": false, "labelPadding": 2, "titlePadding": 8}}}},
            {"data": {"name": "arctic_raw"}, "mark": {"type": "circle", "size": 34, "opacity": 1},
             "encoding": {"y": {"field": "loss", "type": "quantitative", "scale": {"type": "log", "domain": [3.63e-5, 1.288], "nice": false}, "axis": null},
               "color": {"datum": "BCE loss", "type": "nominal", "scale": {"range": ["#3fc1f0"]},
                 "legend": {"orient": "top-left", "offset": 5, "title": null, "padding": 3, "fillColor": "rgba(255,255,255,0.85)", "strokeColor": "#cccccc", "cornerRadius": 3, "symbolType": "M-1,0H-0.2M1.6,0H2.4M0.1,0A0.6,0.6,0,1,1,1.3,0A0.6,0.6,0,1,1,0.1,0Z", "symbolSize": 100, "labelOffset": 18,
                   "encode": {"symbols": {"update": {"fill": {"value": "#3fc1f0"}, "stroke": {"value": "#3fc1f0"}, "strokeWidth": {"value": 1.3}, "opacity": {"value": 1}}}}}}}},
            {"data": {"name": "fits"}, "transform": [{"filter": "datum.panel === 'arctic_raw'"}], "mark": {"type": "line", "color": "#e5141b", "strokeWidth": 2},
             "encoding": {"y": {"field": "loss", "type": "quantitative", "scale": {"type": "log", "domain": [3.63e-5, 1.288], "nice": false}, "axis": null}, "detail": {"field": "segment", "type": "nominal"}}},
            {"data": {"name": "arctic_raw"}, "mark": {"type": "line", "color": "#f9a63a", "strokeDash": [5, 2.5], "strokeWidth": 1.3},
             "encoding": {"y": {"field": "prev", "type": "quantitative", "title": "Prevalence (%)", "scale": {"domain": [-3.8, 83.8], "nice": false, "zero": false},
               "axis": {"orient": "right", "values": [0, 20, 40, 60, 80], "tickSize": 4, "tickWidth": 0.8, "labelPadding": 2, "titlePadding": 5, "titleAngle": 270, "titleBaseline": "top"}}}},
            {"data": {"name": "arctic_raw"}, "mark": {"type": "circle", "size": 34, "opacity": 1},
             "encoding": {"y": {"field": "prev", "type": "quantitative", "scale": {"domain": [-3.8, 83.8], "nice": false, "zero": false}, "axis": null},
               "color": {"datum": "Prevalence", "type": "nominal", "scale": {"range": ["#f9a63a"]},
                 "legend": {"orient": "top-right", "offset": 5, "title": null, "padding": 3, "fillColor": "rgba(255,255,255,0.85)", "strokeColor": "#cccccc", "cornerRadius": 3, "symbolType": "M-1,0H-0.2M1.6,0H2.4M0.1,0A0.6,0.6,0,1,1,1.3,0A0.6,0.6,0,1,1,0.1,0Z", "symbolSize": 100, "labelOffset": 18,
                   "encode": {"symbols": {"update": {"fill": {"value": "#f9a63a"}, "stroke": {"value": "#f9a63a"}, "strokeWidth": {"value": 1.3}, "opacity": {"value": 1}}}}}}}}
          ],
          "resolve": {"scale": {"y": "independent", "color": "independent"}}
        },
        {"width": 1, "height": 53, "data": {"values": []}, "mark": "text", "view": {"stroke": null}},
        {
          "width": 280, "height": 169,
          "title": {"text": "VST", "orient": "left", "angle": 0, "align": "center", "baseline": "middle", "anchor": "middle", "frame": "group", "offset": 19, "dy": 4},
          "encoding": {"x": {"field": "lambda", "type": "quantitative", "title": "lambda", "scale": {"type": "log", "domain": [4.467e-11, 2.239e-3], "nice": false},
            "axis": {"tickCount": 20, "labelExpr": "abs(log(datum.value)/LN10 - round(log(datum.value)/LN10)) < 0.01 ? '10' + (round(log(datum.value)/LN10) < 0 ? '⁻' : '') + (abs(round(log(datum.value)/LN10)) >= 10 ? '¹' : '') + ['⁰','¹','²','³','⁴','⁵','⁶','⁷','⁸','⁹'][abs(round(log(datum.value)/LN10)) % 10] : ''", "tickSize": {"condition": {"test": "abs(log(datum.value)/LN10 - round(log(datum.value)/LN10)) < 0.01", "value": 4}, "value": 2}, "tickWidth": 0.8, "labelOverlap": false, "labelFlush": false, "labelPadding": 5, "titlePadding": 6}}},
          "layer": [
            {"data": {"name": "arctic_vst"}, "mark": {"type": "line", "color": "#3fc1f0", "strokeDash": [5, 2.5], "strokeWidth": 1.3},
             "encoding": {"y": {"field": "loss", "type": "quantitative", "title": "loss", "scale": {"type": "log", "domain": [5.75e-5, 1.216], "nice": false},
               "axis": {"orient": "left", "tickCount": 20, "labelExpr": "abs(log(datum.value)/LN10 - round(log(datum.value)/LN10)) < 0.01 ? '10' + (round(log(datum.value)/LN10) < 0 ? '⁻' : '') + (abs(round(log(datum.value)/LN10)) >= 10 ? '¹' : '') + ['⁰','¹','²','³','⁴','⁵','⁶','⁷','⁸','⁹'][abs(round(log(datum.value)/LN10)) % 10] : ''", "tickSize": {"condition": {"test": "abs(log(datum.value)/LN10 - round(log(datum.value)/LN10)) < 0.01", "value": 4}, "value": 2}, "tickWidth": 0.8, "labelOverlap": false, "labelPadding": 2, "titlePadding": 8}}}},
            {"data": {"name": "arctic_vst"}, "mark": {"type": "circle", "size": 34, "opacity": 1, "color": "#3fc1f0"},
             "encoding": {"y": {"field": "loss", "type": "quantitative", "scale": {"type": "log", "domain": [5.75e-5, 1.216], "nice": false}, "axis": null}}},
            {"data": {"name": "fits"}, "transform": [{"filter": "datum.panel === 'arctic_vst'"}], "mark": {"type": "line", "color": "#e5141b", "strokeWidth": 2},
             "encoding": {"y": {"field": "loss", "type": "quantitative", "scale": {"type": "log", "domain": [5.75e-5, 1.216], "nice": false}, "axis": null}, "detail": {"field": "segment", "type": "nominal"}}},
            {"data": {"name": "arctic_vst"}, "mark": {"type": "line", "color": "#f9a63a", "strokeDash": [5, 2.5], "strokeWidth": 1.3},
             "encoding": {"y": {"field": "prev", "type": "quantitative", "title": "Prevalence (%)", "scale": {"domain": [-4.4, 93.0], "nice": false, "zero": false},
               "axis": {"orient": "right", "values": [0, 20, 40, 60, 80], "tickSize": 4, "tickWidth": 0.8, "labelPadding": 2, "titlePadding": 5, "titleAngle": 270, "titleBaseline": "top"}}}},
            {"data": {"name": "arctic_vst"}, "mark": {"type": "circle", "size": 34, "opacity": 1, "color": "#f9a63a"},
             "encoding": {"y": {"field": "prev", "type": "quantitative", "scale": {"domain": [-4.4, 93.0], "nice": false, "zero": false}, "axis": null}}}
          ],
          "resolve": {"scale": {"y": "independent"}}
        },
        {"width": 1, "height": 68, "data": {"values": []}, "mark": "text", "view": {"stroke": null}},
        {
          "width": 282, "height": 170,
          "title": {"text": "VST-z", "orient": "left", "angle": 0, "align": "center", "baseline": "middle", "anchor": "middle", "frame": "group", "offset": -18, "dy": 4},
          "encoding": {"x": {"field": "lambda", "type": "quantitative", "title": "lambda", "scale": {"type": "log", "domain": [4.467e-11, 2.239e-3], "nice": false},
            "axis": {"tickCount": 20, "labelExpr": "abs(log(datum.value)/LN10 - round(log(datum.value)/LN10)) < 0.01 ? '10' + (round(log(datum.value)/LN10) < 0 ? '⁻' : '') + (abs(round(log(datum.value)/LN10)) >= 10 ? '¹' : '') + ['⁰','¹','²','³','⁴','⁵','⁶','⁷','⁸','⁹'][abs(round(log(datum.value)/LN10)) % 10] : ''", "tickSize": {"condition": {"test": "abs(log(datum.value)/LN10 - round(log(datum.value)/LN10)) < 0.01", "value": 4}, "value": 2}, "tickWidth": 0.8, "labelOverlap": false, "labelFlush": false, "labelPadding": 5, "titlePadding": 6}}},
          "layer": [
            {"data": {"name": "arctic_vstz"}, "mark": {"type": "line", "color": "#3fc1f0", "strokeDash": [5, 2.5], "strokeWidth": 1.3},
             "encoding": {"y": {"field": "loss", "type": "quantitative", "title": "loss", "scale": {"type": "log", "domain": [1.19e-4, 0.977], "nice": false},
               "axis": {"orient": "left", "tickCount": 20, "labelExpr": "abs(log(datum.value)/LN10 - round(log(datum.value)/LN10)) < 0.01 ? '10' + (round(log(datum.value)/LN10) < 0 ? '⁻' : '') + (abs(round(log(datum.value)/LN10)) >= 10 ? '¹' : '') + ['⁰','¹','²','³','⁴','⁵','⁶','⁷','⁸','⁹'][abs(round(log(datum.value)/LN10)) % 10] : ''", "tickSize": {"condition": {"test": "abs(log(datum.value)/LN10 - round(log(datum.value)/LN10)) < 0.01", "value": 4}, "value": 2}, "tickWidth": 0.8, "labelOverlap": false, "labelPadding": 2, "titlePadding": 8}}}},
            {"data": {"name": "arctic_vstz"}, "mark": {"type": "circle", "size": 34, "opacity": 1, "color": "#3fc1f0"},
             "encoding": {"y": {"field": "loss", "type": "quantitative", "scale": {"type": "log", "domain": [1.19e-4, 0.977], "nice": false}, "axis": null}}},
            {"data": {"name": "fits"}, "transform": [{"filter": "datum.panel === 'arctic_vstz'"}], "mark": {"type": "line", "color": "#e5141b", "strokeWidth": 2},
             "encoding": {"y": {"field": "loss", "type": "quantitative", "scale": {"type": "log", "domain": [1.19e-4, 0.977], "nice": false}, "axis": null}, "detail": {"field": "segment", "type": "nominal"}}},
            {"data": {"name": "arctic_vstz"}, "mark": {"type": "line", "color": "#f9a63a", "strokeDash": [5, 2.5], "strokeWidth": 1.3},
             "encoding": {"y": {"field": "prev", "type": "quantitative", "title": "Prevalence (%)", "scale": {"domain": [-4.0, 92.7], "nice": false, "zero": false},
               "axis": {"orient": "right", "values": [0, 20, 40, 60, 80], "tickSize": 4, "tickWidth": 0.8, "labelPadding": 2, "titlePadding": 5, "titleAngle": 270, "titleBaseline": "top"}}}},
            {"data": {"name": "arctic_vstz"}, "mark": {"type": "circle", "size": 34, "opacity": 1, "color": "#f9a63a"},
             "encoding": {"y": {"field": "prev", "type": "quantitative", "scale": {"domain": [-4.0, 92.7], "nice": false, "zero": false}, "axis": null}}}
          ],
          "resolve": {"scale": {"y": "independent"}}
        }
      ],
      "spacing": 0, "bounds": "flush", "center": true
    },
    {
      "title": {"text": "ibd_frau", "anchor": "middle", "frame": "group", "offset": 12, "dx": 128},
      "vconcat": [
        {
          "width": 286, "height": 168,
          "encoding": {"x": {"field": "lambda", "type": "quantitative", "title": "lambda", "scale": {"type": "log", "domain": [6.31e-8, 1.585e-3], "nice": false},
            "axis": {"tickCount": 20, "labelExpr": "abs(log(datum.value)/LN10 - round(log(datum.value)/LN10)) < 0.01 ? '10' + (round(log(datum.value)/LN10) < 0 ? '⁻' : '') + (abs(round(log(datum.value)/LN10)) >= 10 ? '¹' : '') + ['⁰','¹','²','³','⁴','⁵','⁶','⁷','⁸','⁹'][abs(round(log(datum.value)/LN10)) % 10] : ''", "tickSize": {"condition": {"test": "abs(log(datum.value)/LN10 - round(log(datum.value)/LN10)) < 0.01", "value": 4}, "value": 2}, "tickWidth": 0.8, "labelOverlap": false, "labelFlush": false, "labelPadding": 5, "titlePadding": 6}}},
          "layer": [
            {"data": {"name": "ibd_raw"}, "mark": {"type": "line", "color": "#3fc1f0", "strokeDash": [5, 2.5], "strokeWidth": 1.3},
             "encoding": {"y": {"field": "loss", "type": "quantitative", "title": "loss", "scale": {"type": "log", "domain": [4.75e-5, 1.222], "nice": false},
               "axis": {"orient": "left", "tickCount": 20, "labelExpr": "abs(log(datum.value)/LN10 - round(log(datum.value)/LN10)) < 0.01 ? '10' + (round(log(datum.value)/LN10) < 0 ? '⁻' : '') + (abs(round(log(datum.value)/LN10)) >= 10 ? '¹' : '') + ['⁰','¹','²','³','⁴','⁵','⁶','⁷','⁸','⁹'][abs(round(log(datum.value)/LN10)) % 10] : ''", "tickSize": {"condition": {"test": "abs(log(datum.value)/LN10 - round(log(datum.value)/LN10)) < 0.01", "value": 4}, "value": 2}, "tickWidth": 0.8, "labelOverlap": false, "labelPadding": 2, "titlePadding": 8}}}},
            {"data": {"name": "ibd_raw"}, "mark": {"type": "circle", "size": 34, "opacity": 1, "color": "#3fc1f0"},
             "encoding": {"y": {"field": "loss", "type": "quantitative", "scale": {"type": "log", "domain": [4.75e-5, 1.222], "nice": false}, "axis": null}}},
            {"data": {"name": "fits"}, "transform": [{"filter": "datum.panel === 'ibd_raw'"}], "mark": {"type": "line", "color": "#e5141b", "strokeWidth": 2},
             "encoding": {"y": {"field": "loss", "type": "quantitative", "scale": {"type": "log", "domain": [4.75e-5, 1.222], "nice": false}, "axis": null}, "detail": {"field": "segment", "type": "nominal"}}},
            {"data": {"name": "ibd_raw"}, "mark": {"type": "line", "color": "#f9a63a", "strokeDash": [5, 2.5], "strokeWidth": 1.3},
             "encoding": {"y": {"field": "prev", "type": "quantitative", "title": "Prevalence (%)", "scale": {"domain": [-3.9, 81.7], "nice": false, "zero": false},
               "axis": {"orient": "right", "values": [0, 20, 40, 60, 80], "tickSize": 4, "tickWidth": 0.8, "labelPadding": 2, "titlePadding": 5, "titleAngle": 270, "titleBaseline": "top"}}}},
            {"data": {"name": "ibd_raw"}, "mark": {"type": "circle", "size": 34, "opacity": 1, "color": "#f9a63a"},
             "encoding": {"y": {"field": "prev", "type": "quantitative", "scale": {"domain": [-3.9, 81.7], "nice": false, "zero": false}, "axis": null}}}
          ],
          "resolve": {"scale": {"y": "independent"}}
        },
        {"width": 1, "height": 53, "data": {"values": []}, "mark": "text", "view": {"stroke": null}},
        {
          "width": 282, "height": 169,
          "encoding": {"x": {"field": "lambda", "type": "quantitative", "title": "lambda", "scale": {"type": "log", "domain": [5.623e-9, 1.778e-3], "nice": false},
            "axis": {"tickCount": 20, "labelExpr": "abs(log(datum.value)/LN10 - round(log(datum.value)/LN10)) < 0.01 ? '10' + (round(log(datum.value)/LN10) < 0 ? '⁻' : '') + (abs(round(log(datum.value)/LN10)) >= 10 ? '¹' : '') + ['⁰','¹','²','³','⁴','⁵','⁶','⁷','⁸','⁹'][abs(round(log(datum.value)/LN10)) % 10] : ''", "tickSize": {"condition": {"test": "abs(log(datum.value)/LN10 - round(log(datum.value)/LN10)) < 0.01", "value": 4}, "value": 2}, "tickWidth": 0.8, "labelOverlap": false, "labelFlush": false, "labelPadding": 5, "titlePadding": 6}}},
          "layer": [
            {"data": {"name": "ibd_vst"}, "mark": {"type": "line", "color": "#3fc1f0", "strokeDash": [5, 2.5], "strokeWidth": 1.3},
             "encoding": {"y": {"field": "loss", "type": "quantitative", "title": "loss", "scale": {"type": "log", "domain": [2.9e-6, 1.361], "nice": false},
               "axis": {"orient": "left", "tickCount": 20, "labelExpr": "abs(log(datum.value)/LN10 - round(log(datum.value)/LN10)) < 0.01 ? '10' + (round(log(datum.value)/LN10) < 0 ? '⁻' : '') + (abs(round(log(datum.value)/LN10)) >= 10 ? '¹' : '') + ['⁰','¹','²','³','⁴','⁵','⁶','⁷','⁸','⁹'][abs(round(log(datum.value)/LN10)) % 10] : ''", "tickSize": {"condition": {"test": "abs(log(datum.value)/LN10 - round(log(datum.value)/LN10)) < 0.01", "value": 4}, "value": 2}, "tickWidth": 0.8, "labelOverlap": false, "labelPadding": 2, "titlePadding": 8}}}},
            {"data": {"name": "ibd_vst"}, "mark": {"type": "circle", "size": 34, "opacity": 1, "color": "#3fc1f0"},
             "encoding": {"y": {"field": "loss", "type": "quantitative", "scale": {"type": "log", "domain": [2.9e-6, 1.361], "nice": false}, "axis": null}}},
            {"data": {"name": "fits"}, "transform": [{"filter": "datum.panel === 'ibd_vst'"}], "mark": {"type": "line", "color": "#e5141b", "strokeWidth": 2},
             "encoding": {"y": {"field": "loss", "type": "quantitative", "scale": {"type": "log", "domain": [2.9e-6, 1.361], "nice": false}, "axis": null}, "detail": {"field": "segment", "type": "nominal"}}},
            {"data": {"name": "ibd_vst"}, "mark": {"type": "line", "color": "#f9a63a", "strokeDash": [5, 2.5], "strokeWidth": 1.3},
             "encoding": {"y": {"field": "prev", "type": "quantitative", "title": "Prevalence (%)", "scale": {"domain": [-4.2, 93.4], "nice": false, "zero": false},
               "axis": {"orient": "right", "values": [0, 20, 40, 60, 80], "tickSize": 4, "tickWidth": 0.8, "labelPadding": 2, "titlePadding": 5, "titleAngle": 270, "titleBaseline": "top"}}}},
            {"data": {"name": "ibd_vst"}, "mark": {"type": "circle", "size": 34, "opacity": 1, "color": "#f9a63a"},
             "encoding": {"y": {"field": "prev", "type": "quantitative", "scale": {"domain": [-4.2, 93.4], "nice": false, "zero": false}, "axis": null}}}
          ],
          "resolve": {"scale": {"y": "independent"}}
        },
        {"width": 1, "height": 68, "data": {"values": []}, "mark": "text", "view": {"stroke": null}},
        {
          "width": 286, "height": 170,
          "encoding": {"x": {"field": "lambda", "type": "quantitative", "title": "lambda", "scale": {"type": "log", "domain": [5.623e-9, 1.778e-3], "nice": false},
            "axis": {"tickCount": 20, "labelExpr": "abs(log(datum.value)/LN10 - round(log(datum.value)/LN10)) < 0.01 ? '10' + (round(log(datum.value)/LN10) < 0 ? '⁻' : '') + (abs(round(log(datum.value)/LN10)) >= 10 ? '¹' : '') + ['⁰','¹','²','³','⁴','⁵','⁶','⁷','⁸','⁹'][abs(round(log(datum.value)/LN10)) % 10] : ''", "tickSize": {"condition": {"test": "abs(log(datum.value)/LN10 - round(log(datum.value)/LN10)) < 0.01", "value": 4}, "value": 2}, "tickWidth": 0.8, "labelOverlap": false, "labelFlush": false, "labelPadding": 5, "titlePadding": 6}}},
          "layer": [
            {"data": {"name": "ibd_vstz"}, "mark": {"type": "line", "color": "#3fc1f0", "strokeDash": [5, 2.5], "strokeWidth": 1.3},
             "encoding": {"y": {"field": "loss", "type": "quantitative", "title": "loss", "scale": {"type": "log", "domain": [1.68e-5, 0.953], "nice": false},
               "axis": {"orient": "left", "tickCount": 20, "labelExpr": "abs(log(datum.value)/LN10 - round(log(datum.value)/LN10)) < 0.01 ? '10' + (round(log(datum.value)/LN10) < 0 ? '⁻' : '') + (abs(round(log(datum.value)/LN10)) >= 10 ? '¹' : '') + ['⁰','¹','²','³','⁴','⁵','⁶','⁷','⁸','⁹'][abs(round(log(datum.value)/LN10)) % 10] : ''", "tickSize": {"condition": {"test": "abs(log(datum.value)/LN10 - round(log(datum.value)/LN10)) < 0.01", "value": 4}, "value": 2}, "tickWidth": 0.8, "labelOverlap": false, "labelPadding": 2, "titlePadding": 8}}}},
            {"data": {"name": "ibd_vstz"}, "mark": {"type": "circle", "size": 34, "opacity": 1, "color": "#3fc1f0"},
             "encoding": {"y": {"field": "loss", "type": "quantitative", "scale": {"type": "log", "domain": [1.68e-5, 0.953], "nice": false}, "axis": null}}},
            {"data": {"name": "fits"}, "transform": [{"filter": "datum.panel === 'ibd_vstz'"}], "mark": {"type": "line", "color": "#e5141b", "strokeWidth": 2},
             "encoding": {"y": {"field": "loss", "type": "quantitative", "scale": {"type": "log", "domain": [1.68e-5, 0.953], "nice": false}, "axis": null}, "detail": {"field": "segment", "type": "nominal"}}},
            {"data": {"name": "ibd_vstz"}, "mark": {"type": "line", "color": "#f9a63a", "strokeDash": [5, 2.5], "strokeWidth": 1.3},
             "encoding": {"y": {"field": "prev", "type": "quantitative", "title": "Prevalence (%)", "scale": {"domain": [-4.2, 88.9], "nice": false, "zero": false},
               "axis": {"orient": "right", "values": [0, 20, 40, 60, 80], "tickSize": 4, "tickWidth": 0.8, "labelPadding": 2, "titlePadding": 5, "titleAngle": 270, "titleBaseline": "top"}}}},
            {"data": {"name": "ibd_vstz"}, "mark": {"type": "circle", "size": 34, "opacity": 1, "color": "#f9a63a"},
             "encoding": {"y": {"field": "prev", "type": "quantitative", "scale": {"domain": [-4.2, 88.9], "nice": false, "zero": false}, "axis": null}}}
          ],
          "resolve": {"scale": {"y": "independent"}}
        }
      ],
      "spacing": 0, "bounds": "flush", "center": true
    },
    {
      "title": {"text": "crc_zeller", "anchor": "middle", "frame": "group", "offset": 12, "dx": 124},
      "vconcat": [
        {
          "width": 285, "height": 168,
          "encoding": {"x": {"field": "lambda", "type": "quantitative", "title": "lambda", "scale": {"type": "log", "domain": [6.31e-8, 1.585e-3], "nice": false},
            "axis": {"tickCount": 20, "labelExpr": "abs(log(datum.value)/LN10 - round(log(datum.value)/LN10)) < 0.01 ? '10' + (round(log(datum.value)/LN10) < 0 ? '⁻' : '') + (abs(round(log(datum.value)/LN10)) >= 10 ? '¹' : '') + ['⁰','¹','²','³','⁴','⁵','⁶','⁷','⁸','⁹'][abs(round(log(datum.value)/LN10)) % 10] : ''", "tickSize": {"condition": {"test": "abs(log(datum.value)/LN10 - round(log(datum.value)/LN10)) < 0.01", "value": 4}, "value": 2}, "tickWidth": 0.8, "labelOverlap": false, "labelFlush": false, "labelPadding": 5, "titlePadding": 6}}},
          "layer": [
            {"data": {"name": "crc_raw"}, "mark": {"type": "line", "color": "#3fc1f0", "strokeDash": [5, 2.5], "strokeWidth": 1.3},
             "encoding": {"y": {"field": "loss", "type": "quantitative", "title": "loss", "scale": {"type": "log", "domain": [7.41e-6, 2.09], "nice": false},
               "axis": {"orient": "left", "tickCount": 20, "labelExpr": "abs(log(datum.value)/LN10 - round(log(datum.value)/LN10)) < 0.01 ? '10' + (round(log(datum.value)/LN10) < 0 ? '⁻' : '') + (abs(round(log(datum.value)/LN10)) >= 10 ? '¹' : '') + ['⁰','¹','²','³','⁴','⁵','⁶','⁷','⁸','⁹'][abs(round(log(datum.value)/LN10)) % 10] : ''", "tickSize": {"condition": {"test": "abs(log(datum.value)/LN10 - round(log(datum.value)/LN10)) < 0.01", "value": 4}, "value": 2}, "tickWidth": 0.8, "labelOverlap": false, "labelPadding": 2, "titlePadding": 8}}}},
            {"data": {"name": "crc_raw"}, "mark": {"type": "circle", "size": 34, "opacity": 1, "color": "#3fc1f0"},
             "encoding": {"y": {"field": "loss", "type": "quantitative", "scale": {"type": "log", "domain": [7.41e-6, 2.09], "nice": false}, "axis": null}}},
            {"data": {"name": "fits"}, "transform": [{"filter": "datum.panel === 'crc_raw'"}], "mark": {"type": "line", "color": "#e5141b", "strokeWidth": 2},
             "encoding": {"y": {"field": "loss", "type": "quantitative", "scale": {"type": "log", "domain": [7.41e-6, 2.09], "nice": false}, "axis": null}, "detail": {"field": "segment", "type": "nominal"}}},
            {"data": {"name": "crc_raw"}, "mark": {"type": "line", "color": "#f9a63a", "strokeDash": [5, 2.5], "strokeWidth": 1.3},
             "encoding": {"y": {"field": "prev", "type": "quantitative", "title": "Prevalence (%)", "scale": {"domain": [-4.2, 87.5], "nice": false, "zero": false},
               "axis": {"orient": "right", "values": [0, 20, 40, 60, 80], "tickSize": 4, "tickWidth": 0.8, "labelPadding": 2, "titlePadding": 5, "titleAngle": 270, "titleBaseline": "top"}}}},
            {"data": {"name": "crc_raw"}, "mark": {"type": "circle", "size": 34, "opacity": 1, "color": "#f9a63a"},
             "encoding": {"y": {"field": "prev", "type": "quantitative", "scale": {"domain": [-4.2, 87.5], "nice": false, "zero": false}, "axis": null}}}
          ],
          "resolve": {"scale": {"y": "independent"}}
        },
        {"width": 1, "height": 53, "data": {"values": []}, "mark": "text", "view": {"stroke": null}},
        {
          "width": 283, "height": 169,
          "encoding": {"x": {"field": "lambda", "type": "quantitative", "title": "lambda", "scale": {"type": "log", "domain": [5.623e-9, 1.778e-3], "nice": false},
            "axis": {"tickCount": 20, "labelExpr": "abs(log(datum.value)/LN10 - round(log(datum.value)/LN10)) < 0.01 ? '10' + (round(log(datum.value)/LN10) < 0 ? '⁻' : '') + (abs(round(log(datum.value)/LN10)) >= 10 ? '¹' : '') + ['⁰','¹','²','³','⁴','⁵','⁶','⁷','⁸','⁹'][abs(round(log(datum.value)/LN10)) % 10] : ''", "tickSize": {"condition": {"test": "abs(log(datum.value)/LN10 - round(log(datum.value)/LN10)) < 0.01", "value": 4}, "value": 2}, "tickWidth": 0.8, "labelOverlap": false, "labelFlush": false, "labelPadding": 5, "titlePadding": 6}}},
          "layer": [
            {"data": {"name": "crc_vst"}, "mark": {"type": "line", "color": "#3fc1f0", "strokeDash": [5, 2.5], "strokeWidth": 1.3},
             "encoding": {"y": {"field": "loss", "type": "quantitative", "title": "loss", "scale": {"type": "log", "domain": [3.39e-6, 1.39], "nice": false},
               "axis": {"orient": "left", "tickCount": 20, "labelExpr": "abs(log(datum.value)/LN10 - round(log(datum.value)/LN10)) < 0.01 ? '10' + (round(log(datum.value)/LN10) < 0 ? '⁻' : '') + (abs(round(log(datum.value)/LN10)) >= 10 ? '¹' : '') + ['⁰','¹','²','³','⁴','⁵','⁶','⁷','⁸','⁹'][abs(round(log(datum.value)/LN10)) % 10] : ''", "tickSize": {"condition": {"test": "abs(log(datum.value)/LN10 - round(log(datum.value)/LN10)) < 0.01", "value": 4}, "value": 2}, "tickWidth": 0.8, "labelOverlap": false, "labelPadding": 2, "titlePadding": 8}}}},
            {"data": {"name": "crc_vst"}, "mark": {"type": "circle", "size": 34, "opacity": 1, "color": "#3fc1f0"},
             "encoding": {"y": {"field": "loss", "type": "quantitative", "scale": {"type": "log", "domain": [3.39e-6, 1.39], "nice": false}, "axis": null}}},
            {"data": {"name": "fits"}, "transform": [{"filter": "datum.panel === 'crc_vst'"}], "mark": {"type": "line", "color": "#e5141b", "strokeWidth": 2},
             "encoding": {"y": {"field": "loss", "type": "quantitative", "scale": {"type": "log", "domain": [3.39e-6, 1.39], "nice": false}, "axis": null}, "detail": {"field": "segment", "type": "nominal"}}},
            {"data": {"name": "crc_vst"}, "mark": {"type": "line", "color": "#f9a63a", "strokeDash": [5, 2.5], "strokeWidth": 1.3},
             "encoding": {"y": {"field": "prev", "type": "quantitative", "title": "Prevalence (%)", "scale": {"domain": [-0.3, 105.6], "nice": false, "zero": false},
               "axis": {"orient": "right", "values": [0, 20, 40, 60, 80, 100], "tickSize": 4, "tickWidth": 0.8, "labelPadding": 2, "titlePadding": 5, "titleAngle": 270, "titleBaseline": "top"}}}},
            {"data": {"name": "crc_vst"}, "mark": {"type": "circle", "size": 34, "opacity": 1, "color": "#f9a63a"},
             "encoding": {"y": {"field": "prev", "type": "quantitative", "scale": {"domain": [-0.3, 105.6], "nice": false, "zero": false}, "axis": null}}}
          ],
          "resolve": {"scale": {"y": "independent"}}
        },
        {"width": 1, "height": 68, "data": {"values": []}, "mark": "text", "view": {"stroke": null}},
        {
          "width": 279, "height": 170,
          "encoding": {"x": {"field": "lambda", "type": "quantitative", "title": "lambda", "scale": {"type": "log", "domain": [5.623e-9, 1.778e-3], "nice": false},
            "axis": {"tickCount": 20, "labelExpr": "abs(log(datum.value)/LN10 - round(log(datum.value)/LN10)) < 0.01 ? '10' + (round(log(datum.value)/LN10) < 0 ? '⁻' : '') + (abs(round(log(datum.value)/LN10)) >= 10 ? '¹' : '') + ['⁰','¹','²','³','⁴','⁵','⁶','⁷','⁸','⁹'][abs(round(log(datum.value)/LN10)) % 10] : ''", "tickSize": {"condition": {"test": "abs(log(datum.value)/LN10 - round(log(datum.value)/LN10)) < 0.01", "value": 4}, "value": 2}, "tickWidth": 0.8, "labelOverlap": false, "labelFlush": false, "labelPadding": 5, "titlePadding": 6}}},
          "layer": [
            {"data": {"name": "crc_vstz"}, "mark": {"type": "line", "color": "#3fc1f0", "strokeDash": [5, 2.5], "strokeWidth": 1.3},
             "encoding": {"y": {"field": "loss", "type": "quantitative", "title": "loss", "scale": {"type": "log", "domain": [1.86e-5, 1.167], "nice": false},
               "axis": {"orient": "left", "tickCount": 20, "labelExpr": "abs(log(datum.value)/LN10 - round(log(datum.value)/LN10)) < 0.01 ? '10' + (round(log(datum.value)/LN10) < 0 ? '⁻' : '') + (abs(round(log(datum.value)/LN10)) >= 10 ? '¹' : '') + ['⁰','¹','²','³','⁴','⁵','⁶','⁷','⁸','⁹'][abs(round(log(datum.value)/LN10)) % 10] : ''", "tickSize": {"condition": {"test": "abs(log(datum.value)/LN10 - round(log(datum.value)/LN10)) < 0.01", "value": 4}, "value": 2}, "tickWidth": 0.8, "labelOverlap": false, "labelPadding": 2, "titlePadding": 8}}}},
            {"data": {"name": "crc_vstz"}, "mark": {"type": "circle", "size": 34, "opacity": 1, "color": "#3fc1f0"},
             "encoding": {"y": {"field": "loss", "type": "quantitative", "scale": {"type": "log", "domain": [1.86e-5, 1.167], "nice": false}, "axis": null}}},
            {"data": {"name": "fits"}, "transform": [{"filter": "datum.panel === 'crc_vstz'"}], "mark": {"type": "line", "color": "#e5141b", "strokeWidth": 2},
             "encoding": {"y": {"field": "loss", "type": "quantitative", "scale": {"type": "log", "domain": [1.86e-5, 1.167], "nice": false}, "axis": null}, "detail": {"field": "segment", "type": "nominal"}}},
            {"data": {"name": "crc_vstz"}, "mark": {"type": "line", "color": "#f9a63a", "strokeDash": [5, 2.5], "strokeWidth": 1.3},
             "encoding": {"y": {"field": "prev", "type": "quantitative", "title": "Prevalence (%)", "scale": {"domain": [-0.6, 105.7], "nice": false, "zero": false},
               "axis": {"orient": "right", "values": [0, 20, 40, 60, 80, 100], "tickSize": 4, "tickWidth": 0.8, "labelPadding": 2, "titlePadding": 5, "titleAngle": 270, "titleBaseline": "top"}}}},
            {"data": {"name": "crc_vstz"}, "mark": {"type": "circle", "size": 34, "opacity": 1, "color": "#f9a63a"},
             "encoding": {"y": {"field": "prev", "type": "quantitative", "scale": {"domain": [-0.6, 105.7], "nice": false, "zero": false}, "axis": null}}}
          ],
          "resolve": {"scale": {"y": "independent"}}
        }
      ],
      "spacing": 0, "bounds": "flush", "center": true
    }
  ],
  "spacing": 25
}
